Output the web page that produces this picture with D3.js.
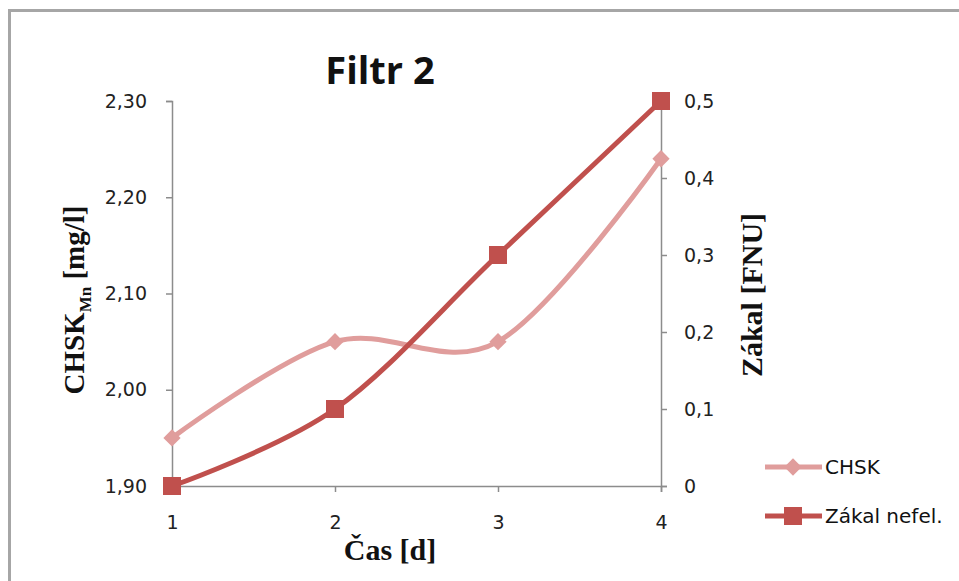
<!DOCTYPE html>
<html>
<head>
<meta charset="utf-8">
<script src="https://cdn.jsdelivr.net/npm/d3@7"></script>
<style>
  body { margin: 0; background: #fff; }
  svg { display: block; }
</style>
</head>
<body>
<svg id="svg1" width="959" height="581"></svg>
<script>
// data
var days = [1, 2, 3, 4];
var chsk = [1.95, 2.05, 2.05, 2.24];
var zakal = [0, 0.1, 0.3, 0.5];
var leftTicks = [1.90, 2.00, 2.10, 2.20, 2.30];
var rightTicks = [0, 0.1, 0.2, 0.3, 0.4, 0.5];
var seriesNames = ['CHSK', 'Zákal nefel.'];

var svg = d3.select('#svg1');

var chskColor = '#e09d9c';
var zakalColor = '#c0504d';
var axisColor = '#8c8c8c';

// chart border (only top and left visible in frame)
svg.append('path')
    .attr('d', 'M9.5,600 L9.5,10.5 L980,10.5')
    .attr('fill', 'none')
    .attr('stroke', '#a6a6a6')
    .attr('stroke-width', 3);

var x = d3.scaleLinear().domain([1, 4]).range([172, 661]);
var yL = d3.scaleLinear().domain([1.9, 2.3]).range([486, 101]);
var yR = d3.scaleLinear().domain([0, 0.5]).range([486, 101]);

var fmt = function(d){ return d3.format('.2f')(d).replace('.', ','); };
var fmtR = function(d){ return d === 0 ? '0' : d3.format('.1f')(d).replace('.', ','); };

// left axis
var gL = svg.append('g')
    .attr('transform', 'translate(' + x(1) + ',0)')
    .call(d3.axisLeft(yL).tickValues(leftTicks).tickFormat(fmt).tickSize(6).tickPadding(19));

// right axis
var gR = svg.append('g')
    .attr('transform', 'translate(' + x(4) + ',0)')
    .call(d3.axisRight(yR).tickValues(rightTicks).tickFormat(fmtR).tickSize(6).tickPadding(17));

// x axis
var gX = svg.append('g')
    .attr('transform', 'translate(0,' + yL(1.9) + ')')
    .call(d3.axisBottom(x).tickValues(days).tickFormat(d3.format('d')).tickSize(6).tickPadding(24));

[gL, gR, gX].forEach(function(g){
    g.select('.domain').attr('stroke', axisColor).attr('stroke-width', 1.5);
    g.selectAll('.tick line').attr('stroke', axisColor).attr('stroke-width', 1.5);
    g.selectAll('.tick text')
        .attr('fill', '#222')
        .style('font-family', '"DejaVu Sans", Verdana, sans-serif')
        .style('font-size', '19px');
});

// lines
var chskLine = d3.line()
    .x(function(d, i){ return x(days[i]); })
    .y(function(d){ return yL(d); })
    .curve(d3.curveCatmullRom.alpha(0));

var zakalLine = d3.line()
    .x(function(d, i){ return x(days[i]); })
    .y(function(d){ return yR(d); })
    .curve(d3.curveCatmullRom.alpha(0));

svg.append('path')
    .datum(chsk)
    .attr('d', chskLine)
    .attr('fill', 'none')
    .attr('stroke', chskColor)
    .attr('stroke-width', 5);

svg.selectAll('.chsk-pt')
    .data(chsk)
    .enter()
    .append('path')
    .attr('class', 'chsk-pt')
    .attr('d', d3.symbol().type(d3.symbolDiamond2).size(190))
    .attr('transform', function(d, i){ return 'translate(' + x(days[i]) + ',' + yL(d) + ')'; })
    .attr('fill', chskColor);

svg.append('path')
    .datum(zakal)
    .attr('d', zakalLine)
    .attr('fill', 'none')
    .attr('stroke', zakalColor)
    .attr('stroke-width', 5);

svg.selectAll('.zakal-pt')
    .data(zakal)
    .enter()
    .append('rect')
    .attr('class', 'zakal-pt')
    .attr('x', function(d, i){ return x(days[i]) - 9; })
    .attr('y', function(d){ return yR(d) - 9; })
    .attr('width', 18)
    .attr('height', 18)
    .attr('fill', zakalColor);

// title
svg.append('text')
    .text('Filtr 2')
    .attr('x', 380)
    .attr('y', 84)
    .attr('text-anchor', 'middle')
    .style('font-family', '"Open Sans", Lato, sans-serif')
    .style('font-weight', 'bold')
    .style('font-size', '38px')
    .attr('fill', '#111');

// left axis title
var lt = svg.append('text')
    .attr('transform', 'translate(84,300) rotate(-90)')
    .attr('text-anchor', 'middle')
    .style('font-family', '"Liberation Serif", "Times New Roman", serif')
    .style('font-weight', 'bold')
    .style('font-size', '29px')
    .attr('fill', '#111');
lt.append('tspan').text('CHSK');
lt.append('tspan').text('Mn').attr('dy', 7).style('font-size', '17px');
lt.append('tspan').text(' [mg/l]').attr('dy', -7);

// right axis title
svg.append('text')
    .text('Zákal [FNU]')
    .attr('transform', 'translate(762,295) rotate(-90)')
    .attr('text-anchor', 'middle')
    .style('font-family', '"Liberation Serif", "Times New Roman", serif')
    .style('font-weight', 'bold')
    .style('font-size', '30px')
    .attr('fill', '#111');

// x axis title
svg.append('text')
    .text('Čas [d]')
    .attr('x', 390)
    .attr('y', 560)
    .attr('text-anchor', 'middle')
    .style('font-family', '"Liberation Serif", "Times New Roman", serif')
    .style('font-weight', 'bold')
    .style('font-size', '30px')
    .attr('fill', '#111');

// legend
var legend = svg.append('g').attr('transform', 'translate(765,467)');
var legendColors = [chskColor, zakalColor];
var item = legend.selectAll('g')
    .data(seriesNames)
    .enter()
    .append('g')
    .attr('transform', function(d, i){ return 'translate(0,' + (i * 49) + ')'; });

item.append('line')
    .attr('x1', 0).attr('x2', 57)
    .attr('y1', 0).attr('y2', 0)
    .attr('stroke', function(d, i){ return legendColors[i]; })
    .attr('stroke-width', 5);

item.append('path')
    .attr('d', function(d, i){
        return i === 0 ? d3.symbol().type(d3.symbolDiamond2).size(190)() : 'M-9,-9H9V9H-9Z';
    })
    .attr('transform', 'translate(28,0)')
    .attr('fill', function(d, i){ return legendColors[i]; });

item.append('text')
    .text(function(d){ return d; })
    .attr('x', 60)
    .attr('y', 7)
    .style('font-family', '"DejaVu Sans", Verdana, sans-serif')
    .style('font-size', '20px')
    .attr('fill', '#111');
</script>
</body>
</html>
